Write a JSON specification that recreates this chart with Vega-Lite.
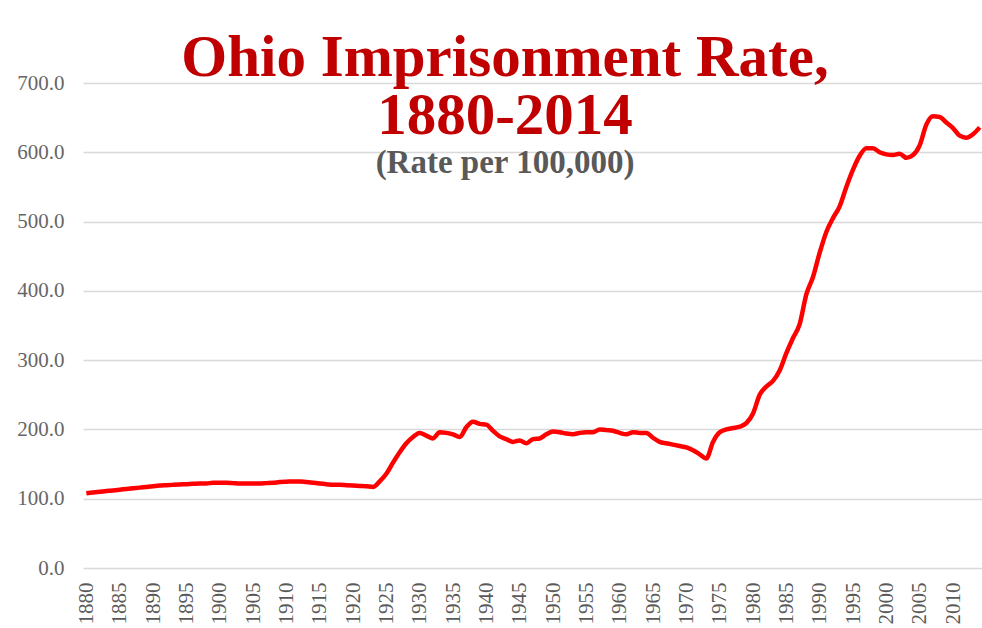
{
  "$schema": "https://vega.github.io/schema/vega-lite/v6.json",
  "autosize": "none",
  "width": 900,
  "height": 485,
  "padding": {"left": 83, "top": 83, "right": 0, "bottom": 60},
  "background": "white",
  "config": {"view": {"stroke": null}, "font": "Liberation Serif"},
  "title": {
    "text": ["Ohio Imprisonment Rate,", "1880-2014"],
    "subtitle": "(Rate per 100,000)",
    "anchor": "middle",
    "dx": -28,
    "offset": -108,
    "font": "Liberation Serif",
    "fontSize": 59,
    "fontWeight": "bold",
    "color": "#c00000",
    "lineHeight": 58,
    "subtitleFont": "Liberation Serif",
    "subtitleFontSize": 33,
    "subtitleFontWeight": "bold",
    "subtitleColor": "#595959",
    "subtitlePadding": 1
  },
  "data": {
    "values": [
      {"year": 1880, "rate": 108}, {"year": 1881, "rate": 109}, {"year": 1882, "rate": 110}, {"year": 1883, "rate": 111},
      {"year": 1884, "rate": 112}, {"year": 1885, "rate": 113}, {"year": 1886, "rate": 114}, {"year": 1887, "rate": 115},
      {"year": 1888, "rate": 116}, {"year": 1889, "rate": 117}, {"year": 1890, "rate": 118}, {"year": 1891, "rate": 119},
      {"year": 1892, "rate": 119.5}, {"year": 1893, "rate": 120}, {"year": 1894, "rate": 120.5}, {"year": 1895, "rate": 121},
      {"year": 1896, "rate": 121.5}, {"year": 1897, "rate": 122}, {"year": 1898, "rate": 122}, {"year": 1899, "rate": 123},
      {"year": 1900, "rate": 123}, {"year": 1901, "rate": 123}, {"year": 1902, "rate": 122.5}, {"year": 1903, "rate": 122},
      {"year": 1904, "rate": 122}, {"year": 1905, "rate": 122}, {"year": 1906, "rate": 122}, {"year": 1907, "rate": 122.5},
      {"year": 1908, "rate": 123}, {"year": 1909, "rate": 124}, {"year": 1910, "rate": 124.5}, {"year": 1911, "rate": 125},
      {"year": 1912, "rate": 125}, {"year": 1913, "rate": 124}, {"year": 1914, "rate": 123}, {"year": 1915, "rate": 122},
      {"year": 1916, "rate": 121}, {"year": 1917, "rate": 120}, {"year": 1918, "rate": 120}, {"year": 1919, "rate": 119.5},
      {"year": 1920, "rate": 119}, {"year": 1921, "rate": 118.5}, {"year": 1922, "rate": 118}, {"year": 1923, "rate": 117},
      {"year": 1924, "rate": 125}, {"year": 1925, "rate": 136}, {"year": 1926, "rate": 152}, {"year": 1927, "rate": 167},
      {"year": 1928, "rate": 180}, {"year": 1929, "rate": 189}, {"year": 1930, "rate": 195}, {"year": 1931, "rate": 191},
      {"year": 1932, "rate": 187}, {"year": 1933, "rate": 196}, {"year": 1934, "rate": 195}, {"year": 1935, "rate": 193},
      {"year": 1936, "rate": 189}, {"year": 1937, "rate": 203}, {"year": 1938, "rate": 211}, {"year": 1939, "rate": 208},
      {"year": 1940, "rate": 207}, {"year": 1941, "rate": 198}, {"year": 1942, "rate": 190}, {"year": 1943, "rate": 186},
      {"year": 1944, "rate": 182}, {"year": 1945, "rate": 184}, {"year": 1946, "rate": 180}, {"year": 1947, "rate": 186},
      {"year": 1948, "rate": 187}, {"year": 1949, "rate": 193}, {"year": 1950, "rate": 197}, {"year": 1951, "rate": 196},
      {"year": 1952, "rate": 194}, {"year": 1953, "rate": 193}, {"year": 1954, "rate": 195}, {"year": 1955, "rate": 196},
      {"year": 1956, "rate": 196}, {"year": 1957, "rate": 200}, {"year": 1958, "rate": 199}, {"year": 1959, "rate": 198},
      {"year": 1960, "rate": 195}, {"year": 1961, "rate": 193}, {"year": 1962, "rate": 196}, {"year": 1963, "rate": 195},
      {"year": 1964, "rate": 195}, {"year": 1965, "rate": 188}, {"year": 1966, "rate": 182}, {"year": 1967, "rate": 180},
      {"year": 1968, "rate": 178}, {"year": 1969, "rate": 176}, {"year": 1970, "rate": 174}, {"year": 1971, "rate": 170},
      {"year": 1972, "rate": 164}, {"year": 1973, "rate": 158}, {"year": 1974, "rate": 182}, {"year": 1975, "rate": 196},
      {"year": 1976, "rate": 200}, {"year": 1977, "rate": 202}, {"year": 1978, "rate": 204}, {"year": 1979, "rate": 209},
      {"year": 1980, "rate": 223}, {"year": 1981, "rate": 250}, {"year": 1982, "rate": 262}, {"year": 1983, "rate": 270},
      {"year": 1984, "rate": 285}, {"year": 1985, "rate": 310}, {"year": 1986, "rate": 332}, {"year": 1987, "rate": 352},
      {"year": 1988, "rate": 395}, {"year": 1989, "rate": 420}, {"year": 1990, "rate": 455}, {"year": 1991, "rate": 485},
      {"year": 1992, "rate": 505}, {"year": 1993, "rate": 522}, {"year": 1994, "rate": 550}, {"year": 1995, "rate": 575},
      {"year": 1996, "rate": 595}, {"year": 1997, "rate": 606}, {"year": 1998, "rate": 606}, {"year": 1999, "rate": 600},
      {"year": 2000, "rate": 597}, {"year": 2001, "rate": 596}, {"year": 2002, "rate": 598}, {"year": 2003, "rate": 592},
      {"year": 2004, "rate": 596}, {"year": 2005, "rate": 610}, {"year": 2006, "rate": 640}, {"year": 2007, "rate": 652},
      {"year": 2008, "rate": 651}, {"year": 2009, "rate": 643}, {"year": 2010, "rate": 635}, {"year": 2011, "rate": 624},
      {"year": 2012, "rate": 621}, {"year": 2013, "rate": 626}, {"year": 2014, "rate": 636}
    ]
  },
  "mark": {"type": "line", "color": "#ff0000", "strokeWidth": 4.5, "interpolate": "monotone"},
  "encoding": {
    "x": {
      "field": "year",
      "type": "quantitative",
      "scale": {"domain": [1879.5, 2014.5], "nice": false, "zero": false},
      "axis": {
        "title": null,
        "values": [1880, 1885, 1890, 1895, 1900, 1905, 1910, 1915, 1920, 1925, 1930, 1935, 1940, 1945, 1950, 1955, 1960, 1965, 1970, 1975, 1980, 1985, 1990, 1995, 2000, 2005, 2010],
        "format": "d",
        "grid": false,
        "domain": false,
        "ticks": false,
        "labelAngle": -90,
        "labelAlign": "right",
        "labelBaseline": "middle",
        "labelPadding": 14,
        "labelFont": "Liberation Serif",
        "labelFontSize": 21,
        "labelColor": "#595959",
        "labelOverlap": false
      }
    },
    "y": {
      "field": "rate",
      "type": "quantitative",
      "scale": {"domain": [0, 700], "nice": false},
      "axis": {
        "title": null,
        "values": [0, 100, 200, 300, 400, 500, 600, 700],
        "format": ".1f",
        "grid": true,
        "gridColor": "#d9d9d9",
        "gridWidth": 1.5,
        "domain": false,
        "ticks": false,
        "labelPadding": 19,
        "labelFont": "Liberation Serif",
        "labelFontSize": 21,
        "labelColor": "#666666"
      }
    }
  }
}
